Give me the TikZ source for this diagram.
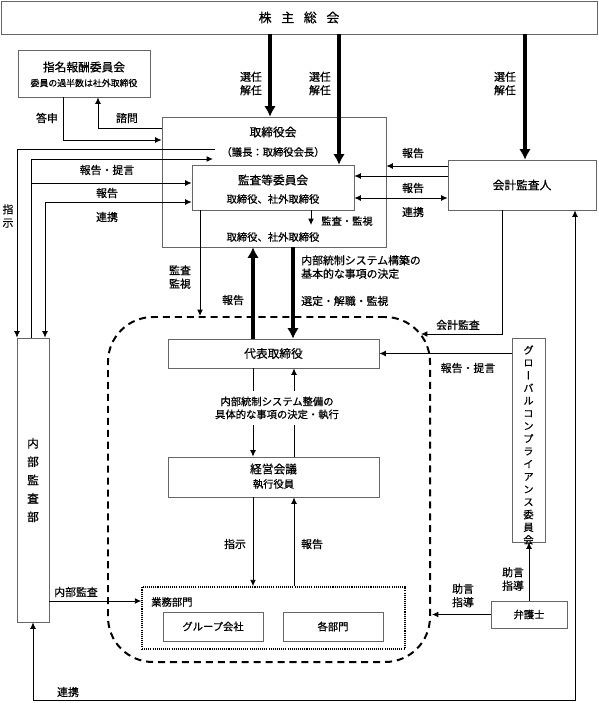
\documentclass[tikz,border=0pt]{standalone}
\usepackage{fontspec}
\setmainfont{Noto Sans CJK JP}[FakeBold=0.6]
\newfontfamily\tatefont[RawFeature=+vert,FakeBold=0.6]{Noto Sans CJK JP}
\usetikzlibrary{arrows.meta}
\newcommand{\pxl}{0.03cm}

\begin{document}
\begin{tikzpicture}[x=0.03cm, y=-0.03cm,
    >={Latex[length=5.5pt,width=5pt]},
    box/.style 2 args={draw=black!60, line width=0.6pt, inner sep=0pt, minimum width={#1*\pxl}, minimum height={#2*\pxl}},
    ttl/.style={inner sep=0pt, font=\fontsize{10}{12}\selectfont},
    sub/.style={inner sep=0pt, font=\fontsize{8.8}{10}\selectfont},
    lbl/.style={inner sep=0pt, align=center, font=\fontsize{9.3}{11.5}\selectfont},
    con/.style={line width=0.8pt, ->},
    big/.style={line width=3.4pt, -{Latex[length=9pt,width=10pt]}}]
    \useasboundingbox (0,0) rectangle (599,703);

    % boxes
    \node[box={596}{33}, font=\fontsize{11}{13}\selectfont] (soukai) at (299,17.5) {株\hspace{0.75em}主\hspace{0.75em}総\hspace{0.75em}会};
    \node[box={132}{47}] (shimei) at (84,73.5) {};
    \node[ttl] (shimeiT) at (84,67) {指名報酬委員会};
    \node[sub, font=\fontsize{7.6}{9}\selectfont] (shimeiS) at (84,83) {委員の過半数は社外取締役};
    \node[box={224}{130}] (tb) at (274,182) {};
    \node[ttl] (tbT) at (273,132) {取締役会};
    \node[sub] (tbS) at (273,152) {（議長：取締役会長）};
    \node[sub] (tbU) at (273,237) {取締役、社外取締役};
    \node[box={162}{45}, fill=white] (kansa) at (273,187.5) {};
    \node[ttl] (kansaT) at (273,180) {監査等委員会};
    \node[sub] (kansaS) at (273,199) {取締役、社外取締役};
    \node[box={148}{50}, ttl] (kaikei) at (522,185) {会計監査人};
    \node[box={32}{284}] (naibu) at (33,480) {};
    \node[ttl, align=center, font=\fontsize{10}{15.7}\selectfont] (naibuT) at (33,480) {内\\部\\監\\査\\部};
    \node[draw, dashed, line width=1.7pt, dash pattern=on 6pt off 4.2pt, rounded corners=1.35cm,
          minimum width={322*\pxl}, minimum height={345*\pxl}] (ctrl) at (269,489.5) {};
    \node[box={211}{29}, ttl] (daihyo) at (273.5,353.5) {代表取締役};
    \node[box={211}{40}] (keiei) at (273.5,477) {};
    \node[ttl] (keieiT) at (273.5,469) {経営会議};
    \node[sub] (keieiS) at (273.5,484) {執行役員};
    \node[draw, line width=1.3pt, dash pattern=on 0.9pt off 0.9pt, inner sep=0pt,
          minimum width={263*\pxl}, minimum height={62*\pxl}] (gyomu) at (273.5,618) {};
    \node[sub, anchor=west] (gyomuT) at (151,602) {業務部門};
    \node[box={100}{29}, sub] (group) at (213,626.5) {グループ会社};
    \node[box={100}{29}, sub] (kakubu) at (333,626.5) {各部門};
    \node[box={33}{204}] (gc) at (528.5,440) {};
    \node[sub, align=center, font=\fontsize{8.8}{10.8}\selectfont\tatefont] (gcT) at (528.5,445)
        {グ\\ロ\\ー\\バ\\ル\\コ\\ン\\プ\\ラ\\イ\\ア\\ン\\ス\\委\\員\\会};
    \node[box={76}{27}, sub] (bengo) at (529,614.5) {弁護士};

    % 株主総会から
    \draw[big] (270,0 |- soukai.south) -- (270,0 |- tb.north);
    \draw[big] (339,0 |- soukai.south) -- (339,0 |- kansa.north);
    \draw[big] (525,0 |- soukai.south) -- (525,0 |- kaikei.north);
    \node[lbl] (sen1) at (251,83.5) {選任\\解任};
    \node[lbl] (sen2) at (320,83.5) {選任\\解任};
    \node[lbl] (sen3) at (505,83.5) {選任\\解任};

    % 指名報酬委員会
    \draw[con] (63,0 |- shimei.south) -- (63,140) -- (tb.west |- 0,140);
    \draw[con] (tb.west |- 0,128) -- (98,128) -- (98,0 |- shimei.south);
    \node[lbl] (toushin) at (47,118) {答申};
    \node[lbl] (shimon) at (127,118) {諮問};

    % 内部監査部
    \coordinate (shiji) at (215,149);
    \draw[con] (shiji) -- (17,149) -- (17,0 |- naibu.north);
    \draw[con] (31,0 |- naibu.north) -- (31,159) -- (213,159);
    \draw[con] (31,183) -- (kansa.west |- 0,183);
    \draw[con, <->] (kansa.west |- 0,202) -- (45,202) -- (45,0 |- naibu.north);
    \node[lbl] (shijiL) at (8,216) {指\\示};
    \node[lbl] (teigen) at (107,170) {報告・提言};
    \node[lbl] (houkoku1) at (107,193) {報告};
    \node[lbl] (renkei1) at (107,217) {連携};
    \draw[con] (naibu.east |- 0,601) -- (gyomu.west |- 0,601);
    \node[lbl] (naibuL) at (76,592) {内部監査};
    \draw[con, <->] (575,0 |- kaikei.south) -- (575,700) -- (33,700) -- (naibu.south);
    \node[lbl] (renkei3) at (68,692) {連携};

    % 会計監査人
    \draw[con] (kaikei.west |- 0,166) -- (tb.east |- 0,166);
    \draw[con] (kaikei.west |- 0,176) -- (kansa.east |- 0,176);
    \draw[con, <->] (kansa.east |- 0,198) -- (kaikei.west |- 0,198);
    \node[lbl] (houkoku2) at (413,153) {報告};
    \node[lbl] (houkoku3) at (413,188) {報告};
    \node[lbl] (renkei2) at (413,212) {連携};
    \draw[con] (502,0 |- kaikei.south) -- (502,334) -- (421,334);
    \node[lbl] (kaikeiL) at (458,325) {会計監査};

    % 監査等委員会
    \draw[con] (311,0 |- kansa.south) -- (311,225);
    \node[lbl, font=\fontsize{8.8}{10}\selectfont] (kanshi1) at (347,221) {監査・監視};
    \draw[con] (200,0 |- kansa.south) -- (200,0 |- ctrl.north);
    \node[lbl] (kanshi2) at (180,277) {監査\\監視};

    % 取締役会と代表取締役
    \draw[big] (253,0 |- daihyo.north) -- (253,0 |- tb.south);
    \draw[big] (293,0 |- tb.south) -- (293,0 |- daihyo.north);
    \node[lbl] (houkoku4) at (233,300) {報告};
    \node[lbl, anchor=west, align=left] (kouchiku) at (301,267) {内部統制システム構築の\\基本的な事項の決定};
    \node[lbl, anchor=west] (sentei) at (301,301) {選定・解職・監視};

    % 代表取締役と経営会議
    \draw[con] (253,0 |- daihyo.south) -- (253,0 |- keiei.north);
    \draw[con] (294,0 |- keiei.north) -- (294,0 |- daihyo.south);
    \node[lbl, fill=white, inner ysep=5pt, font=\fontsize{8.8}{11}\selectfont] (seibi) at (277,408)
        {内部統制システム整備の\\具体的な事項の決定・執行};
    \draw[con] (253,0 |- keiei.south) -- (253,0 |- gyomu.north);
    \draw[con] (294,0 |- gyomu.north) -- (294,0 |- keiei.south);
    \node[lbl] (shiji2) at (235,544) {指示};
    \node[lbl] (houkoku5) at (312,544) {報告};

    % コンプライアンス
    \draw[con] (gc.west |- daihyo.east) -- (daihyo.east);
    \node[lbl] (teigen2) at (468,368) {報告・提言};
    \draw[con] (bengo.north) -- (bengo.north |- gc.south);
    \node[lbl] (jogen1) at (513,579) {助言\\指導};
    \draw[con] (bengo.west) -- (432,0 |- bengo.west);
    \node[lbl] (jogen2) at (463,595.5) {助言\\指導};
\end{tikzpicture}
\end{document}
